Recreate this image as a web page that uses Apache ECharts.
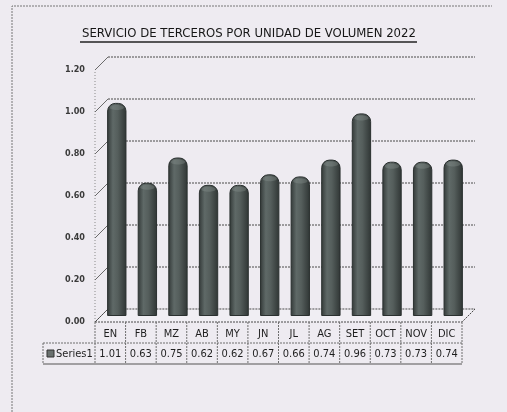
<!DOCTYPE html>
<html>
<head>
<meta charset="utf-8">
<script src="https://cdn.jsdelivr.net/npm/echarts@6/dist/echarts.min.js"></script>
<style>
  html, body { margin: 0; padding: 0; background: #eeebf1; }
  #chart { width: 507px; height: 412px; }
</style>
</head>
<body>
<div id="chart"></div>
<script>
// Monthly cost of third-party services per unit of volume, 2022
const months = ['EN', 'FB', 'MZ', 'AB', 'MY', 'JN', 'JL', 'AG', 'SET', 'OCT', 'NOV', 'DIC'];
const series1 = [1.01, 0.63, 0.75, 0.62, 0.62, 0.67, 0.66, 0.74, 0.96, 0.73, 0.73, 0.74];
const yTicks = [0, 0.2, 0.4, 0.6, 0.8, 1.0, 1.2];
const seriesName = 'Series1';
const chartTitle = 'SERVICIO DE TERCEROS POR UNIDAD DE VOLUMEN 2022';

// 3D depth of the plot box, in pixels (back wall shifted right and up)
const DX = 13, DY = -13;
const ROW_H = 21;
const NARROW = '"Liberation Sans Narrow", "DejaVu Sans Condensed", "Open Sans", sans-serif';
const GRID_STROKE = '#4a4a4a';
const TABLE_STROKE = '#6f6f6f';

const chart = echarts.init(document.getElementById('chart'), null, { renderer: 'canvas' });

// Walls, floor, gridlines and the data-table frame, all placed from the axis scales
function renderFrame(params, api) {
  const children = [];
  const n = months.length;
  const band = api.size([1, 0])[0];
  const x0 = api.coord([0, 0])[0] - band / 2;
  const x1 = api.coord([n - 1, 0])[0] + band / 2;
  const yFloor = api.coord([0, 0])[1];
  const yTop = api.coord([0, yTicks[yTicks.length - 1]])[1];
  const dotted = { stroke: GRID_STROKE, lineWidth: 1, lineDash: [2, 1], fill: null };

  // left wall front edge
  children.push({ type: 'line', shape: { x1: x0, y1: yFloor, x2: x0, y2: yTop }, style: { stroke: '#8a8a8a', lineWidth: 1, lineDash: [1, 2] } });
  yTicks.forEach(function (v) {
    const y = api.coord([0, v])[1];
    // diagonal across the left wall
    children.push({ type: 'line', shape: { x1: x0, y1: y, x2: x0 + DX, y2: y + DY }, style: { stroke: '#6a6a6a', lineWidth: 1 } });
    // gridline on the back wall
    if (v > 0) {
      children.push({ type: 'line', shape: { x1: x0 + DX, y1: y + DY, x2: x1 + DX, y2: y + DY }, style: dotted });
    }
  });
  // floor
  children.push({
    type: 'polygon',
    shape: { points: [[x0, yFloor], [x1, yFloor], [x1 + DX, yFloor + DY], [x0 + DX, yFloor + DY]] },
    style: { stroke: GRID_STROKE, lineWidth: 1, lineDash: [2, 1], fill: 'rgba(255,255,255,0.15)' }
  });

  // data table: header row (categories) and value row
  const tLeft = x0 - 52;
  const r0 = yFloor, r1 = yFloor + ROW_H, r2 = yFloor + 2 * ROW_H;
  const tStyle = { stroke: TABLE_STROKE, lineWidth: 1, lineDash: [2, 1] };
  children.push({ type: 'line', shape: { x1: tLeft, y1: r1, x2: x1, y2: r1 }, style: tStyle });
  children.push({ type: 'line', shape: { x1: tLeft, y1: r2, x2: x1, y2: r2 }, style: { stroke: '#555', lineWidth: 1.2 } });
  children.push({ type: 'line', shape: { x1: tLeft, y1: r1, x2: tLeft, y2: r2 }, style: tStyle });
  for (let i = 0; i <= n; i++) {
    const x = x0 + i * band;
    children.push({ type: 'line', shape: { x1: x, y1: r0, x2: x, y2: r2 }, style: tStyle });
  }
  // legend key and series name
  children.push({ type: 'rect', shape: { x: tLeft + 4, y: r1 + 7, width: 7, height: 7 }, style: { fill: '#6a716f', stroke: '#333', lineWidth: 1 } });
  children.push({
    type: 'text',
    style: { text: seriesName, x: tLeft + 13, y: r1 + ROW_H / 2 + 0.5, verticalAlign: 'middle', align: 'left', fill: '#1e1e1e', font: '11px ' + NARROW }
  });
  return { type: 'group', children: children };
}

// Cylinder bars standing in the middle of the box depth
function renderBar(params, api) {
  const i = api.value(0), v = api.value(1);
  const base = api.coord([i, 0]);
  const top = api.coord([i, v]);
  const w = api.size([1, 0])[0] * 0.6;
  const cx = base[0] + DX / 2;
  const yb = base[1] + DY / 2;
  const yt = top[1] + DY / 2;
  const fill = new echarts.graphic.LinearGradient(0, 0, 1, 0, [
    { offset: 0, color: '#323837' },
    { offset: 0.3, color: '#5f6967' },
    { offset: 0.55, color: '#555e5c' },
    { offset: 1, color: '#2f3534' }
  ]);
  return {
    type: 'group',
    children: [
      {
        type: 'rect',
        shape: { x: cx - w / 2, y: yt, width: w, height: yb - yt, r: [w / 2.4, w / 2.4, 0, 0] },
        style: { fill: fill, stroke: '#2a302f', lineWidth: 1 }
      },
      {
        type: 'ellipse',
        shape: { cx: cx, cy: yt + 4, rx: w / 2 - 2, ry: 2.5 },
        style: { fill: 'rgba(150,158,156,0.3)' }
      }
    ]
  };
}

// Values written in the table row under each month
function renderValue(params, api) {
  const i = api.value(0), v = api.value(1);
  const p = api.coord([i, 0]);
  return {
    type: 'text',
    style: {
      text: v.toFixed(2), x: p[0], y: p[1] + ROW_H * 1.5 + 0.5,
      align: 'center', verticalAlign: 'middle', fill: '#1e1e1e', font: '11px ' + NARROW
    }
  };
}

const barData = series1.map(function (v, i) { return [i, v]; });

chart.setOption({
  backgroundColor: '#eeebf1',
  animation: false,
  title: {
    text: chartTitle,
    left: 82,
    top: 27,
    padding: 0,
    textStyle: { fontFamily: NARROW, fontSize: 13, fontWeight: 'normal', color: '#161616' }
  },
  graphic: [
    { type: 'line', shape: { x1: 80, y1: 42, x2: 417, y2: 42 }, style: { stroke: '#222', lineWidth: 1.3 } },
    { type: 'polyline', shape: { points: [[12, 412], [12, 6], [492, 6]] }, style: { stroke: '#777', lineWidth: 1, lineDash: [2, 1], fill: null } }
  ],
  grid: { left: 95, right: 45, top: 70, bottom: 90 },
  xAxis: {
    type: 'category',
    data: months,
    axisLine: { show: false },
    axisTick: { show: false },
    axisLabel: { margin: 6, fontFamily: NARROW, fontSize: 11, color: '#1e1e1e', verticalAlign: 'top', lineHeight: 12 },
    splitLine: { show: false }
  },
  yAxis: {
    type: 'value',
    min: 0,
    max: 1.2,
    interval: 0.2,
    axisLine: { show: false },
    axisTick: { show: false },
    splitLine: { show: false },
    axisLabel: {
      margin: 10,
      fontFamily: NARROW,
      fontSize: 9,
      fontWeight: 'bold',
      color: '#3a3a3a',
      formatter: function (v) { return v.toFixed(2); }
    }
  },
  series: [
    { type: 'custom', name: 'frame', data: [[0, 0]], renderItem: renderFrame, silent: true, z: 1 },
    { type: 'custom', name: seriesName, data: barData, renderItem: renderBar, z: 2 },
    { type: 'custom', name: 'table', data: barData, renderItem: renderValue, silent: true, z: 3 }
  ]
});
</script>
</body>
</html>
